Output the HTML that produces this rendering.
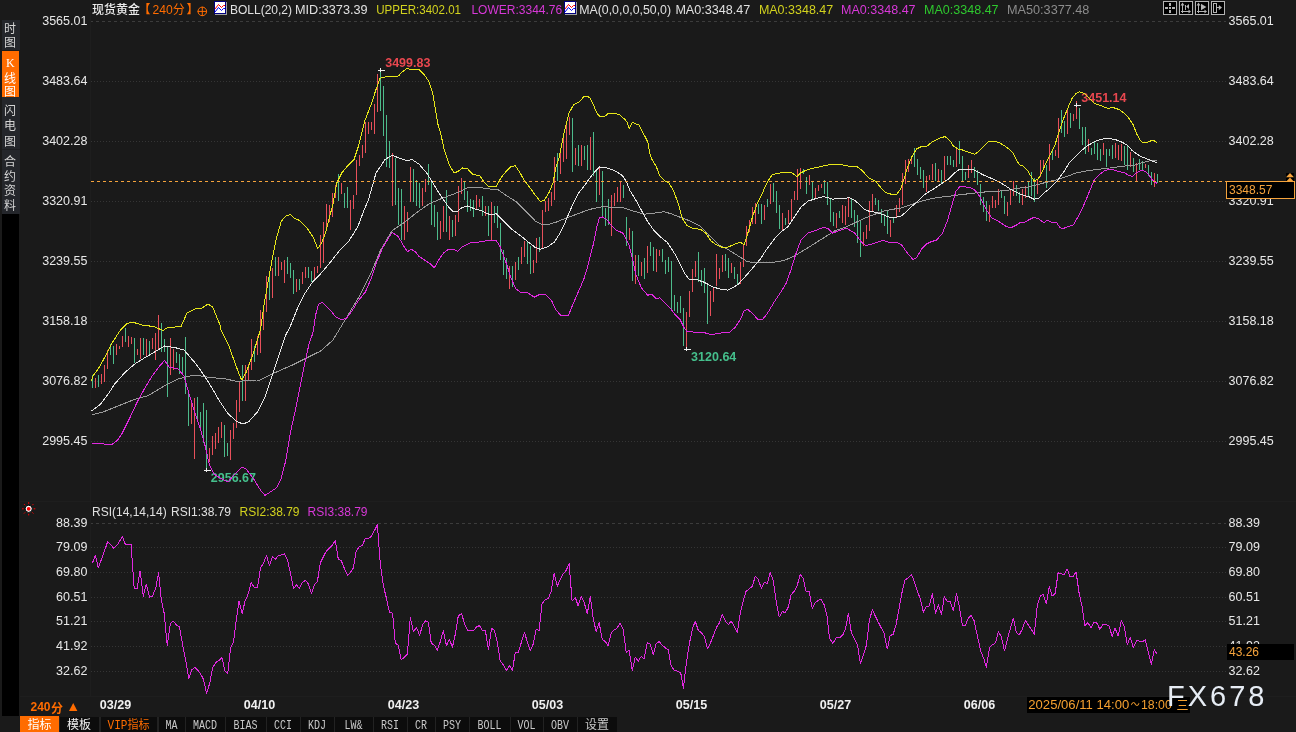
<!DOCTYPE html>
<html><head><meta charset="utf-8"><style>
html,body{margin:0;padding:0}
body{width:1296px;height:732px;background:#1a1a1a;position:relative;overflow:hidden;font-family:"Liberation Sans","Noto Sans CJK SC",sans-serif;}
.side{position:absolute;left:2px;width:18px;background:#24262b;color:#d4d4d4;font-family:"Noto Sans CJK SC",sans-serif;font-size:12px;line-height:14.6px;text-align:left;padding-left:2px;box-sizing:border-box}
</style></head><body>
<div class="side" style="top:20px;height:30px;padding-top:1px;line-height:14px">时<br>图</div>
<div class="side" style="top:51px;height:46px;width:17px;background:#ff6c00;color:#fff;padding-top:4px;line-height:13.6px"><span style="font-family:'Liberation Serif',serif;padding-left:2px">K</span><br>线<br>图</div>
<div class="side" style="top:97px;height:53px;padding-top:5px;line-height:15.3px">闪<br>电<br>图</div>
<div class="side" style="top:150px;height:64px;padding-top:4px">合<br>约<br>资<br>料</div>
<div style="position:absolute;left:2px;top:214px;width:17px;height:502px;background:#000"></div>
<div style="position:absolute;left:2px;top:149px;width:18px;height:1px;background:#1d1e21"></div>
<svg width="1296" height="732" viewBox="0 0 1296 732" style="position:absolute;left:0;top:0" shape-rendering="crispEdges" font-family='"Liberation Sans","Noto Sans CJK SC",sans-serif'>
<path d="M90.5 0V697M20 501.5H1296M20 696.5H1296" stroke="#1e1e1e" stroke-width="1" fill="none"/>
<line x1="91" y1="21.5" x2="1226" y2="21.5" stroke="#3c3c3c" stroke-width="1" stroke-dasharray="3,3" stroke-dashoffset="1"/>
<line x1="91" y1="81.5" x2="1226" y2="81.5" stroke="#353535" stroke-width="1" stroke-dasharray="1,2"/>
<line x1="91" y1="141.5" x2="1226" y2="141.5" stroke="#353535" stroke-width="1" stroke-dasharray="1,2"/>
<line x1="91" y1="201.5" x2="1226" y2="201.5" stroke="#353535" stroke-width="1" stroke-dasharray="1,2"/>
<line x1="91" y1="261.5" x2="1226" y2="261.5" stroke="#353535" stroke-width="1" stroke-dasharray="1,2"/>
<line x1="91" y1="321.5" x2="1226" y2="321.5" stroke="#353535" stroke-width="1" stroke-dasharray="1,2"/>
<line x1="91" y1="381.5" x2="1226" y2="381.5" stroke="#353535" stroke-width="1" stroke-dasharray="1,2"/>
<line x1="91" y1="441.5" x2="1226" y2="441.5" stroke="#353535" stroke-width="1" stroke-dasharray="1,2"/>
<line x1="91" y1="523.5" x2="1226" y2="523.5" stroke="#3c3c3c" stroke-width="1" stroke-dasharray="3,3" stroke-dashoffset="1"/>
<line x1="91" y1="547.5" x2="1226" y2="547.5" stroke="#353535" stroke-width="1" stroke-dasharray="1,2"/>
<line x1="91" y1="572.5" x2="1226" y2="572.5" stroke="#353535" stroke-width="1" stroke-dasharray="1,2"/>
<line x1="91" y1="597.5" x2="1226" y2="597.5" stroke="#353535" stroke-width="1" stroke-dasharray="1,2"/>
<line x1="91" y1="621.5" x2="1226" y2="621.5" stroke="#353535" stroke-width="1" stroke-dasharray="1,2"/>
<line x1="91" y1="646.5" x2="1226" y2="646.5" stroke="#353535" stroke-width="1" stroke-dasharray="1,2"/>
<line x1="91" y1="671.5" x2="1226" y2="671.5" stroke="#353535" stroke-width="1" stroke-dasharray="1,2"/>
<path d="M95.5 378V388M101.5 374V384M104.5 365V382M107.5 350V369M116.5 344V355M119.5 346V349M122.5 336V347M128.5 336V347M131.5 337V344M137.5 349V355M140.5 338V359M146.5 339V356M152.5 338V349M155.5 333V360M158.5 315V349M170.5 338V375M173.5 349V370M191.5 403V424M194.5 398V459M209.5 448V462M212.5 436V455M215.5 433V449M218.5 427V443M221.5 422V438M230.5 430V460M233.5 423V439M236.5 400V428M239.5 381V412M245.5 365V401M248.5 364V381M251.5 339V370M257.5 336V355M260.5 310V353M263.5 310V330M266.5 276V312M272.5 268V298M278.5 257V276M281.5 262V270M284.5 260V283M296.5 279V292M302.5 272V284M305.5 267V278M314.5 267V281M317.5 266V273M320.5 235V268M323.5 222V263M326.5 204V227M329.5 205V222M332.5 193V217M335.5 185V198M341.5 183V194M350.5 200V230M353.5 195V209M356.5 160V195M359.5 155V166M362.5 145V158M365.5 122V153M368.5 122V134M371.5 122V130M374.5 104V134M377.5 74V112M392.5 153V206M404.5 206V240M407.5 212V232M410.5 167V202M422.5 188V206M425.5 179V192M440.5 221V239M443.5 206V232M449.5 216V240M455.5 215V236M458.5 186V222M461.5 178V194M476.5 195V210M479.5 199V207M485.5 206V216M491.5 202V240M509.5 266V289M515.5 262V280M521.5 247V264M524.5 241V257M533.5 260V273M536.5 238V263M542.5 210V248M545.5 201V212M548.5 198V211M551.5 192V206M554.5 157V200M560.5 150V174M563.5 137V162M566.5 123V159M569.5 117V135M575.5 148V165M581.5 145V166M590.5 137V170M599.5 166V195M611.5 195V236M614.5 193V206M617.5 187V202M620.5 181V202M629.5 228V240M635.5 255V284M641.5 262V276M647.5 246V273M656.5 249V272M659.5 250V256M686.5 312V349M689.5 291V317M692.5 269V292M695.5 261V277M710.5 291V316M713.5 288V302M716.5 254V286M719.5 268V279M722.5 255V272M731.5 263V273M740.5 262V284M743.5 245V267M746.5 226V246M749.5 220V232M752.5 207V224M755.5 203V224M764.5 205V220M770.5 184V204M782.5 213V231M788.5 210V224M791.5 199V221M794.5 191V200M797.5 169V200M800.5 168V189M809.5 175V185M815.5 188V198M818.5 185V191M821.5 184V188M836.5 213V228M842.5 205V223M845.5 206V225M848.5 198V217M863.5 232V246M866.5 225V239M869.5 201V231M872.5 194V211M890.5 220V237M896.5 205V218M899.5 198V212M902.5 173V205M905.5 160V184M908.5 159V172M911.5 158V164M926.5 176V192M929.5 175V180M932.5 164V180M938.5 169V181M944.5 156V180M956.5 149V167M968.5 165V178M971.5 160V173M989.5 205V222M992.5 196V208M995.5 200V208M998.5 189V205M1007.5 202V216M1010.5 190V205M1013.5 181V196M1022.5 189V205M1025.5 186V198M1037.5 180V194M1040.5 160V177M1043.5 160V170M1049.5 144V171M1055.5 150V156M1058.5 118V158M1067.5 108V134M1073.5 114V121M1076.5 101V119M1088.5 139V152M1103.5 143V155M1115.5 143V158M1118.5 145V160M1121.5 144V161M1130.5 152V167M1136.5 163V181M1145.5 164V168M1154.5 173V187" stroke="#e8505b" stroke-width="1" fill="none"/>
<path d="M92.5 375V388M98.5 375V387M110.5 344V355M113.5 346V364M125.5 328V342M134.5 338V363M143.5 338V355M149.5 341V355M161.5 323V352M164.5 339V352M167.5 346V397M176.5 352V363M179.5 354V374M182.5 357V375M185.5 337V394M188.5 394V426M197.5 397V421M200.5 412V428M203.5 403V443M206.5 410V470M224.5 425V457M227.5 443V456M242.5 365V401M254.5 346V362M269.5 271V300M275.5 257V276M287.5 257V274M290.5 263V278M293.5 270V294M299.5 279V290M308.5 267V278M311.5 271V282M338.5 174V201M344.5 193V208M347.5 187V208M380.5 70V111M383.5 86V136M386.5 115V167M389.5 141V168M395.5 158V205M398.5 188V225M401.5 189V240M413.5 169V202M416.5 180V206M419.5 183V208M428.5 164V185M431.5 180V225M434.5 205V227M437.5 212V240M446.5 190V232M452.5 220V237M464.5 182V200M467.5 191V212M470.5 199V211M473.5 200V217M482.5 196V216M488.5 206V236M494.5 206V223M497.5 206V228M500.5 223V260M503.5 250V275M506.5 258V279M512.5 266V287M518.5 257V270M527.5 241V264M530.5 246V274M539.5 237V252M557.5 153V181M572.5 118V172M578.5 145V166M584.5 146V160M587.5 145V170M593.5 132V176M596.5 170V202M602.5 171V218M605.5 208V226M608.5 199V225M623.5 185V198M626.5 217V246M632.5 231V281M638.5 255V276M644.5 258V279M650.5 242V256M653.5 247V271M662.5 249V262M665.5 260V274M668.5 257V272M671.5 261V309M674.5 295V311M677.5 302V313M680.5 296V313M683.5 308V346M698.5 252V282M701.5 270V286M704.5 268V293M707.5 284V324M725.5 254V271M728.5 258V278M734.5 267V279M737.5 274V285M758.5 204V214M761.5 204V224M767.5 199V207M773.5 183V202M776.5 191V213M779.5 205V229M785.5 218V225M803.5 169V174M806.5 177V194M812.5 182V199M824.5 180V194M827.5 182V205M830.5 198V222M833.5 212V226M839.5 211V218M851.5 199V218M854.5 210V227M857.5 215V243M860.5 221V257M875.5 198V205M878.5 200V211M881.5 209V223M884.5 214V226M887.5 210V234M893.5 218V223M914.5 148V167M917.5 159V175M920.5 167V179M923.5 170V188M935.5 163V181M941.5 170V184M947.5 156V165M950.5 156V165M953.5 160V167M959.5 141V164M962.5 156V181M965.5 172V180M974.5 167V178M977.5 170V185M980.5 184V205M983.5 197V212M986.5 201V221M1001.5 190V198M1004.5 196V214M1016.5 185V196M1019.5 192V203M1028.5 182V196M1031.5 172V196M1034.5 178V202M1046.5 165V188M1052.5 149V160M1061.5 110V133M1064.5 121V137M1070.5 113V128M1079.5 108V129M1082.5 127V145M1085.5 127V154M1091.5 148V155M1094.5 142V154M1097.5 143V160M1100.5 149V161M1106.5 149V167M1109.5 149V156M1112.5 145V159M1124.5 146V165M1127.5 146V170M1133.5 158V172M1139.5 159V170M1142.5 161V171M1148.5 165V176M1151.5 172V185M1157.5 174V183" stroke="#4dbb8b" stroke-width="1" fill="none"/>
<g font-weight="bold" font-size="12.6" shape-rendering="auto">
<text x="385.2" y="67.3" fill="#e8474f" font-size="12.6" font-weight="bold" textLength="45.2" lengthAdjust="spacingAndGlyphs">3499.83</text>
<text x="1081.3" y="102" fill="#e8474f" font-size="12.6" font-weight="bold" textLength="45.2" lengthAdjust="spacingAndGlyphs">3451.14</text>
<text x="210.8" y="482.2" fill="#45bf8c" font-size="12.6" font-weight="bold" textLength="45.2" lengthAdjust="spacingAndGlyphs">2956.67</text>
<text x="691.1" y="361.2" fill="#45bf8c" font-size="12.6" font-weight="bold" textLength="45.2" lengthAdjust="spacingAndGlyphs">3120.64</text>
</g>
<g fill="none" stroke-width="1" shape-rendering="crispEdges" stroke-linejoin="round">
<polyline points="91.6,415.0 103.0,412.0 118.0,406.0 133.0,400.0 148.0,395.7 163.0,386.7 178.0,379.0 190.0,376.0 199.0,375.6 210.0,377.5 224.8,378.7 234.8,381.0 242.0,381.0 256.7,380.0 260.4,380.0 274.3,373.0 292.9,364.8 309.0,356.7 320.7,351.0 333.0,340.0 348.2,314.7 359.7,295.6 371.2,272.7 380.8,249.7 392.2,230.6 404.6,222.2 416.9,212.4 429.2,203.8 438.0,200.0 447.8,196.2 457.7,192.5 467.5,187.6 477.3,187.0 487.2,188.8 498.0,189.6 505.8,195.2 515.7,201.3 525.5,211.1 535.3,221.0 542.7,224.7 550.1,224.0 556.0,222.2 563.8,219.0 573.7,215.3 583.5,211.6 593.3,208.4 603.2,206.7 612.0,207.3 621.8,207.3 631.7,210.5 644.0,214.2 653.8,213.2 663.6,211.7 670.0,213.4 679.8,217.1 689.7,220.8 699.5,225.7 709.3,235.6 719.2,245.4 728.0,249.6 737.8,255.7 747.7,261.9 760.0,262.6 777.2,261.9 786.0,259.7 795.8,255.2 805.7,249.1 815.5,243.0 825.3,236.8 835.2,230.6 846.0,227.0 853.8,223.4 863.7,218.5 873.5,214.8 883.3,211.1 893.2,209.2 902.0,207.9 914.3,203.4 926.6,199.7 938.9,197.3 951.2,196.0 960.0,194.8 969.8,193.6 979.7,192.4 989.5,191.6 999.3,191.1 1009.2,190.0 1018.0,188.2 1027.8,187.0 1037.7,184.5 1047.5,182.0 1057.3,179.6 1067.2,176.4 1076.0,173.0 1085.8,171.0 1095.7,169.7 1105.5,168.5 1115.3,167.3 1125.2,166.0 1133.5,165.6 1139.0,163.5 1144.4,162.2 1149.9,160.8 1157.0,160.1" stroke="#9a9a9a"/>
<polyline points="91.6,443.1 102.8,443.8 111.4,445.0 117.5,440.2 122.4,432.8 129.8,418.0 137.2,402.0 144.6,388.5 151.9,376.2 159.3,366.4 164.6,360.5 169.0,367.0 178.0,368.7 184.0,376.0 190.0,397.0 195.0,413.0 200.0,427.5 204.6,443.7 209.3,464.6 214.0,474.0 220.9,478.6 227.9,482.0 234.8,474.0 241.8,467.0 246.4,469.3 253.4,478.6 260.4,490.0 265.0,495.3 269.6,492.5 276.6,487.8 281.2,478.6 285.9,460.0 290.5,432.0 295.2,411.0 299.8,388.0 304.5,364.8 309.0,344.0 312.9,333.0 315.7,314.7 318.6,304.2 322.4,302.3 327.2,307.0 331.0,311.0 335.8,317.0 340.6,319.5 346.3,318.6 352.0,311.0 357.8,301.4 365.5,291.8 371.2,278.4 377.0,261.2 382.7,247.8 388.4,238.2 392.2,232.5 398.0,236.3 403.7,245.9 407.5,251.6 411.4,249.3 415.2,251.6 419.0,256.4 424.7,260.2 430.5,264.0 434.3,267.9 439.1,259.3 443.9,252.6 447.8,249.8 452.8,249.0 457.7,251.5 462.6,246.6 470.0,243.0 477.3,242.4 484.7,241.0 492.0,240.5 496.0,240.6 499.7,245.6 503.4,255.4 507.0,265.2 510.8,277.5 515.7,288.6 520.6,292.3 528.0,292.8 534.1,297.2 539.0,294.7 546.2,295.0 551.5,300.4 556.0,310.1 561.3,315.8 568.4,315.5 572.0,306.6 577.3,294.1 583.5,280.0 587.0,269.3 589.7,258.6 593.3,244.4 596.8,226.6 599.5,217.8 602.2,216.9 606.6,219.5 611.0,224.9 616.4,230.2 622.6,232.9 625.3,237.3 628.8,244.4 632.4,258.6 635.9,274.6 641.5,288.0 647.7,295.3 651.3,294.0 656.3,299.0 660.0,297.8 664.9,302.7 670.0,308.0 674.9,314.3 679.8,319.2 684.8,329.0 687.2,331.5 694.6,332.2 704.4,332.7 711.8,334.7 719.2,333.2 730.0,332.2 735.4,327.0 740.3,319.7 744.0,311.0 747.7,309.3 752.6,313.5 757.5,319.2 762.4,319.7 767.3,313.5 774.7,301.2 782.0,290.2 786.0,283.5 790.9,270.0 795.8,254.0 800.8,240.5 808.1,233.1 815.5,230.6 822.9,227.5 827.8,228.2 832.7,233.1 838.9,230.6 846.0,228.2 848.9,229.6 855.0,233.3 861.2,241.9 866.1,245.6 871.0,244.3 878.4,241.9 883.3,240.2 889.5,242.6 896.9,242.6 902.0,245.2 907.0,252.6 913.0,259.5 916.8,257.5 921.7,248.9 926.6,244.0 931.5,241.5 936.4,240.3 942.6,233.0 947.5,220.6 952.4,203.4 956.0,191.1 959.8,186.7 964.9,186.7 972.3,188.2 977.2,192.4 982.1,201.0 987.0,210.8 992.0,218.2 998.1,221.1 1003.0,224.3 1006.7,226.8 1011.6,227.5 1016.6,225.0 1020.0,222.6 1024.1,222.6 1029.0,219.7 1034.0,217.2 1038.9,219.0 1043.8,222.6 1047.5,220.2 1051.2,222.0 1056.1,222.0 1059.8,227.5 1062.3,228.8 1067.2,227.0 1073.3,225.0 1076.0,220.2 1080.9,211.5 1085.8,200.5 1090.8,188.2 1094.4,179.6 1099.4,174.7 1104.3,171.0 1108.0,169.7 1112.9,169.7 1119.0,171.5 1125.2,173.0 1128.0,175.1 1132.8,176.5 1136.2,173.1 1138.9,171.3 1142.3,170.4 1145.8,171.7 1148.5,174.5 1151.9,179.2 1154.6,182.0 1157.0,183.3" stroke="#e028e0"/>
<polyline points="91.6,411.0 100.3,404.5 107.7,394.7 115.0,383.6 124.9,372.5 134.7,364.0 144.6,357.8 157.0,350.6 164.6,346.0 175.0,347.6 184.0,350.0 196.0,364.0 200.0,369.5 209.3,383.4 218.6,399.6 227.9,413.6 237.1,421.7 243.0,424.0 248.7,421.7 258.0,411.2 265.0,397.3 272.0,376.4 278.9,355.5 285.9,334.6 289.7,327.7 297.4,308.6 305.0,293.3 312.7,281.8 320.3,274.1 330.0,262.6 339.4,250.8 348.2,242.0 357.8,226.8 363.5,211.5 368.3,200.0 371.2,190.3 376.0,173.0 381.0,165.7 385.0,159.5 392.3,155.3 399.7,158.3 407.0,160.7 412.0,159.5 419.3,164.4 426.7,173.0 432.9,182.9 437.8,191.3 442.9,198.7 447.8,206.0 452.8,211.5 457.7,211.0 462.6,207.3 467.5,206.0 474.9,209.0 482.3,211.0 488.4,214.0 493.3,214.7 496.0,213.6 503.4,221.0 510.8,228.4 520.6,235.7 528.0,241.9 535.3,247.5 540.3,249.3 547.6,246.8 554.0,242.4 558.9,235.0 565.0,222.7 571.2,208.0 578.6,193.2 586.0,183.4 593.3,173.5 599.5,166.9 606.8,167.8 612.0,169.6 618.0,172.6 622.5,175.6 626.3,181.6 630.0,190.7 635.4,199.4 641.5,210.5 647.7,221.6 653.8,230.2 661.2,237.5 667.3,242.5 670.0,246.6 674.9,254.0 679.8,263.8 684.8,273.7 689.7,279.8 697.0,279.8 704.4,282.3 711.8,286.5 719.2,288.9 728.0,290.2 737.8,284.7 745.2,276.6 752.6,268.0 760.0,259.4 767.3,248.4 774.7,238.5 782.0,231.1 788.0,226.7 793.4,218.4 800.8,207.3 808.1,201.1 815.5,198.7 822.9,196.7 827.8,197.5 832.7,199.2 838.9,198.2 846.0,198.2 848.9,197.6 853.8,199.6 858.8,203.8 863.7,208.7 868.6,211.1 876.0,212.4 883.3,214.8 889.5,217.3 895.6,217.3 902.0,215.7 909.4,208.4 916.8,202.2 924.1,194.8 934.0,188.7 941.3,183.8 948.7,178.8 954.9,172.7 959.8,169.0 967.4,169.0 974.8,170.2 982.1,174.4 989.5,177.6 996.9,180.8 1004.3,185.0 1011.6,189.9 1018.0,193.1 1022.9,195.0 1029.0,196.8 1034.0,199.3 1038.9,198.0 1043.8,193.1 1050.0,188.2 1057.3,180.8 1063.5,172.2 1069.6,162.4 1076.0,156.2 1082.1,150.0 1088.3,145.2 1095.7,141.0 1103.0,139.0 1109.2,138.5 1115.3,139.5 1121.5,142.0 1127.6,145.2 1132.1,150.5 1137.6,154.6 1143.0,157.4 1148.5,159.4 1153.3,161.5 1157.0,162.8" stroke="#e6e6e6"/>
<polyline points="91.6,380.7 93.0,376.0 99.0,367.6 105.2,356.5 111.4,344.0 120.0,330.7 127.3,323.4 132.3,322.0 142.0,325.0 154.0,326.6 163.0,330.5 167.6,327.5 181.0,326.6 187.0,313.0 196.0,308.5 202.0,308.0 208.0,304.0 212.7,307.0 220.0,325.0 221.0,330.0 229.0,346.2 234.8,362.5 239.5,375.3 241.8,380.0 246.4,371.8 253.4,353.2 260.4,330.0 264.0,305.0 271.4,263.4 276.3,238.8 281.2,221.6 283.5,218.2 286.0,216.0 290.6,214.3 294.7,218.7 299.7,220.4 307.0,227.8 310.0,232.5 313.8,238.2 317.6,248.8 321.5,243.0 325.3,233.5 329.1,219.0 333.0,203.8 336.8,183.0 341.7,173.0 347.8,165.7 354.0,159.6 358.9,144.8 365.0,120.2 371.2,104.3 376.0,89.5 380.0,78.4 385.0,77.0 392.3,76.6 398.4,76.0 402.0,72.2 407.0,68.5 412.0,69.8 419.3,69.8 424.3,74.7 429.2,82.0 432.9,94.3 435.3,109.0 437.8,123.8 440.5,132.3 444.1,149.5 449.0,164.3 454.0,172.9 457.7,171.6 462.6,168.0 467.5,168.7 472.4,174.0 479.8,176.0 484.7,182.7 488.4,186.4 493.3,186.0 496.0,186.6 500.9,178.0 505.8,171.8 510.8,166.9 515.2,165.7 519.4,171.8 524.3,180.4 529.2,186.6 535.3,195.2 540.3,201.3 544.0,200.8 548.9,192.7 553.0,182.9 556.0,166.9 558.9,158.8 563.8,134.2 568.8,113.3 573.7,104.7 578.6,102.2 584.7,96.0 589.7,97.3 593.3,104.7 597.0,113.3 600.2,117.0 604.5,116.7 608.3,113.3 615.0,113.3 619.5,114.8 624.8,119.3 627.0,122.3 629.3,128.3 632.3,122.3 635.3,123.8 638.8,124.6 642.0,131.3 645.0,136.6 648.0,142.6 649.6,153.1 651.8,159.1 656.3,166.6 659.3,174.9 664.6,180.9 669.1,183.2 673.6,190.7 678.6,204.8 682.3,218.4 687.2,225.7 692.1,228.2 700.7,229.4 705.7,233.1 710.6,240.5 715.5,244.2 721.6,247.1 728.0,247.1 735.4,244.0 740.3,242.2 744.0,244.7 747.7,233.6 752.6,216.4 757.5,202.9 762.4,193.0 767.3,182.0 772.3,174.6 777.2,173.4 782.0,172.6 786.0,172.0 792.1,172.9 797.0,176.6 800.8,172.9 805.7,170.4 810.6,168.7 818.0,167.2 825.3,165.5 832.7,164.3 838.9,164.3 846.0,165.5 850.1,166.4 857.5,166.9 862.4,170.6 867.4,176.7 871.0,179.2 876.0,181.6 880.9,187.8 885.8,192.7 892.0,194.4 896.9,194.0 900.6,189.0 904.0,179.2 907.0,169.0 911.8,156.7 916.8,148.8 921.7,146.4 926.6,146.4 931.5,142.5 938.9,138.3 945.0,136.6 950.0,140.7 953.6,146.4 958.6,149.3 962.0,149.8 966.1,151.3 971.0,153.0 974.8,154.3 978.4,151.8 983.4,146.9 988.3,141.5 994.4,141.5 999.3,142.5 1004.3,145.7 1009.2,149.3 1012.9,153.0 1016.6,160.4 1020.0,165.3 1022.9,166.0 1027.8,171.0 1031.5,177.1 1034.0,180.8 1037.7,179.6 1041.4,173.4 1046.3,162.4 1051.2,152.5 1054.9,145.2 1058.6,132.9 1062.3,121.8 1067.2,109.5 1072.0,98.4 1076.0,93.5 1079.7,91.8 1084.6,93.5 1089.5,98.4 1094.4,103.4 1099.4,105.0 1104.3,107.0 1108.0,108.3 1112.9,107.5 1119.0,109.5 1124.0,113.2 1128.0,117.0 1133.5,125.3 1136.2,132.8 1139.0,138.3 1141.7,142.0 1145.8,142.3 1148.5,142.0 1151.9,140.3 1154.6,141.0 1157.0,142.6" stroke="#e6e619"/>
<polyline points="92.4,563.0 95.4,555.6 98.3,567.9 102.8,555.6 107.7,541.6 113.8,548.2 117.5,544.5 122.4,536.6 125.4,544.5 131.0,544.0 134.2,588.3 137.2,588.3 140.1,571.0 143.3,596.1 146.3,584.3 149.5,597.4 152.4,596.1 155.6,588.8 158.6,572.8 161.3,599.8 164.2,613.4 167.2,645.3 170.4,623.2 173.3,621.2 176.5,625.2 179.5,626.9 182.7,645.3 185.6,660.0 188.8,678.5 191.8,669.9 195.0,667.4 197.9,670.4 201.1,674.8 203.6,679.7 206.5,693.3 209.7,683.4 212.7,667.4 215.9,662.5 218.8,660.6 222.0,657.6 224.9,671.1 227.7,673.6 230.6,647.8 233.6,641.6 236.0,622.0 239.0,601.5 242.1,613.4 245.1,601.0 248.3,593.7 251.2,582.6 254.4,587.5 257.4,587.5 260.6,567.9 263.5,563.0 266.5,555.6 269.4,565.4 272.4,556.8 275.3,559.3 278.5,555.6 281.5,554.8 284.4,553.8 287.6,560.5 290.6,574.0 293.5,588.8 296.5,585.0 299.4,588.3 302.4,582.6 305.3,580.2 308.3,583.8 311.5,593.2 314.4,585.0 317.4,581.4 320.3,563.0 323.3,556.8 326.2,551.4 329.4,548.2 332.4,545.0 335.3,540.8 338.3,559.3 341.2,560.5 344.2,567.9 347.4,575.2 350.3,572.8 353.3,567.9 356.2,550.7 359.2,547.0 362.4,545.2 365.3,538.6 368.3,538.4 371.2,536.6 374.2,531.0 377.4,524.8 380.3,564.2 383.5,586.3 386.5,598.6 389.4,612.1 392.6,613.4 395.3,642.9 398.3,645.3 401.2,660.0 404.4,657.1 407.4,653.9 410.3,617.8 413.5,631.8 416.5,627.6 419.7,635.5 422.6,624.4 425.8,620.7 428.3,622.0 431.2,642.9 434.4,645.3 437.4,650.2 440.3,641.6 443.3,630.6 446.5,645.8 449.4,639.2 452.4,647.3 455.3,634.3 458.3,615.8 461.5,613.4 464.4,623.2 467.4,630.1 470.3,630.1 473.3,631.0 476.5,626.9 479.4,625.6 482.4,630.6 485.3,630.1 488.5,649.7 491.5,628.1 494.4,630.6 497.4,642.9 500.3,661.3 503.5,665.0 506.4,670.4 509.4,665.5 512.4,670.4 515.3,652.7 518.3,652.7 521.2,642.9 524.4,632.5 527.3,641.6 530.3,650.7 533.2,644.0 536.2,629.3 539.1,630.6 542.1,603.5 545.3,599.8 548.2,598.6 551.2,591.2 554.1,573.5 557.3,586.3 560.3,578.9 563.2,574.0 566.2,570.3 569.1,563.7 572.1,601.0 575.3,597.4 578.2,606.0 581.2,596.1 584.1,602.3 587.3,613.8 590.3,596.1 593.2,618.3 596.2,631.8 599.1,622.7 602.3,639.2 605.3,641.6 608.2,645.8 611.2,633.0 614.1,630.1 617.1,628.1 620.0,623.2 623.2,629.3 626.2,652.7 629.1,650.2 632.3,670.4 635.3,657.1 638.2,661.3 641.2,656.4 644.1,658.8 647.3,642.4 650.3,644.1 653.2,654.7 656.2,643.4 659.1,641.6 662.3,645.3 665.3,647.8 668.2,649.7 671.2,666.2 674.1,669.9 677.1,671.1 680.0,672.4 681.2,674.8 683.4,688.3 686.4,662.5 689.3,644.1 692.3,629.3 695.2,621.2 698.4,630.6 701.4,632.5 704.3,636.7 707.5,649.0 710.5,642.9 713.4,635.5 716.4,627.6 719.3,623.2 722.3,614.6 725.5,621.2 728.4,624.4 731.4,621.2 734.3,626.9 737.3,632.5 740.2,613.4 743.2,601.0 746.1,591.2 749.3,588.8 752.3,586.3 755.2,576.5 758.2,579.4 761.4,588.3 764.3,582.6 767.3,583.4 770.2,572.8 773.2,580.2 776.1,601.0 779.3,617.0 782.3,611.4 785.2,612.9 788.2,607.2 791.1,594.9 794.3,591.2 797.3,585.1 800.2,574.5 803.2,578.4 806.1,591.7 809.3,591.7 812.3,608.9 815.2,602.3 818.2,600.6 821.1,599.1 824.1,604.7 827.0,615.8 829.5,638.0 832.9,643.4 836.6,637.4 840.3,637.4 843.2,634.3 845.7,628.1 848.4,613.4 851.4,633.0 854.6,639.2 857.5,645.3 860.5,663.8 863.4,655.2 866.4,645.3 869.3,620.7 872.3,609.7 875.2,615.8 878.2,622.0 881.1,627.6 884.1,633.0 887.3,649.0 890.2,635.5 893.2,634.3 896.1,624.4 899.1,608.4 902.0,592.5 905.0,580.2 908.2,577.7 911.6,574.5 914.6,582.6 917.5,591.2 920.5,599.8 923.4,612.1 926.4,606.5 929.3,606.0 932.3,593.7 935.5,613.4 938.4,604.7 941.4,614.6 944.3,596.6 947.3,601.5 950.2,601.5 953.4,610.9 956.4,593.7 959.3,606.0 962.3,625.2 965.2,626.1 968.2,618.3 971.1,615.3 974.1,620.7 977.5,636.7 980.9,651.5 983.9,658.8 986.3,667.4 989.5,647.8 992.5,644.8 995.4,642.9 998.4,631.8 1001.3,636.7 1004.5,651.0 1007.5,639.2 1010.4,628.1 1013.4,618.3 1016.3,632.5 1019.3,635.0 1022.2,629.3 1025.4,620.7 1028.4,625.2 1031.3,629.3 1034.3,634.3 1037.2,606.0 1040.2,596.1 1043.1,594.2 1046.3,604.0 1049.3,586.8 1052.2,596.1 1055.2,593.2 1058.1,572.8 1061.1,573.5 1064.0,575.2 1067.2,569.1 1070.2,577.0 1073.1,576.5 1076.1,572.0 1079.0,592.5 1082.0,606.0 1084.9,625.6 1087.9,622.7 1091.1,628.1 1094.0,622.0 1097.0,623.2 1099.9,629.3 1102.9,624.4 1105.8,624.4 1109.0,626.1 1112.2,636.4 1115.0,628.0 1118.2,636.0 1121.3,620.4 1124.2,626.4 1127.3,644.3 1130.2,637.7 1133.2,647.2 1136.8,640.4 1139.5,641.3 1142.2,642.1 1145.2,639.6 1148.3,652.5 1151.3,664.5 1154.3,649.7 1157.0,654.1" stroke="#e028e0"/>
</g>
<line x1="91" y1="181.5" x2="1226" y2="181.5" stroke="#f5a33c" stroke-width="1" stroke-dasharray="3,3"/>
<path d="M378 70.5H385M380.5 68V72" stroke="#f0f0f0" stroke-width="1" fill="none"/>
<path d="M1074 105.5H1081M1076.5 103V107" stroke="#f0f0f0" stroke-width="1" fill="none"/>
<path d="M204 470.5H211M206.5 468V472" stroke="#f0f0f0" stroke-width="1" fill="none"/>
<path d="M684 349.5H691M686.5 347V351" stroke="#f0f0f0" stroke-width="1" fill="none"/>
<g shape-rendering="auto" font-size="12.5" fill="#e8e8e8">
<text x="87.4" y="25" text-anchor="end">3565.01</text>
<text x="1228.6" y="25">3565.01</text>
<text x="87.4" y="85" text-anchor="end">3483.64</text>
<text x="1228.6" y="85">3483.64</text>
<text x="87.4" y="145" text-anchor="end">3402.28</text>
<text x="1228.6" y="145">3402.28</text>
<text x="87.4" y="205" text-anchor="end">3320.91</text>
<text x="1228.6" y="205">3320.91</text>
<text x="87.4" y="265" text-anchor="end">3239.55</text>
<text x="1228.6" y="265">3239.55</text>
<text x="87.4" y="325" text-anchor="end">3158.18</text>
<text x="1228.6" y="325">3158.18</text>
<text x="87.4" y="385" text-anchor="end">3076.82</text>
<text x="1228.6" y="385">3076.82</text>
<text x="87.4" y="445" text-anchor="end">2995.45</text>
<text x="1228.6" y="445">2995.45</text>
<text x="87.4" y="527" text-anchor="end">88.39</text>
<text x="1228.6" y="527">88.39</text>
<text x="87.4" y="551" text-anchor="end">79.09</text>
<text x="1228.6" y="551">79.09</text>
<text x="87.4" y="576" text-anchor="end">69.80</text>
<text x="1228.6" y="576">69.80</text>
<text x="87.4" y="601" text-anchor="end">60.51</text>
<text x="1228.6" y="601">60.51</text>
<text x="87.4" y="625" text-anchor="end">51.21</text>
<text x="1228.6" y="625">51.21</text>
<text x="87.4" y="650" text-anchor="end">41.92</text>
<text x="1228.6" y="650">41.92</text>
<text x="87.4" y="675" text-anchor="end">32.62</text>
<text x="1228.6" y="675">32.62</text>
</g>
<rect x="1226.5" y="181.5" width="68" height="17" fill="#000" stroke="#f5a33c" stroke-width="1"/>
<rect x="1286" y="173" width="8" height="8" fill="#000"/>
<path d="M1286 177.2L1290 173L1294 177.2ZM1286.5 181.2L1290 177.5L1293.5 181.2Z" fill="#f5a33c" shape-rendering="auto"/>
<text x="1229" y="194" fill="#f5a33c" font-size="12" shape-rendering="auto">3348.57</text>
<rect x="1227" y="644" width="67" height="16" fill="#000"/>
<text x="1229" y="655.6" fill="#f5a33c" font-size="12" shape-rendering="auto">43.26</text>
<g shape-rendering="auto" font-size="12">
<text x="92" y="14" fill="#ececec" font-size="12" font-weight="500">现货黄金</text>
<text x="138.5" y="14" fill="#ff6c00" font-size="12" font-weight="bold">【</text>
<text x="152.5" y="14" fill="#ff6c00" font-size="12" textLength="32.4" lengthAdjust="spacingAndGlyphs">240分</text>
<text x="186.5" y="14" fill="#ff6c00" font-size="12" font-weight="bold">】</text>
<text x="230" y="14" fill="#e0e0e0" font-size="12">BOLL(20,2)</text>
<text x="295.0" y="14" fill="#e0e0e0" font-size="12" textLength="72.6" lengthAdjust="spacingAndGlyphs">MID:3373.39</text>
<text x="376.2" y="14" fill="#d2d21e" font-size="12" textLength="84.8" lengthAdjust="spacingAndGlyphs">UPPER:3402.01</text>
<text x="471.4" y="14" fill="#d838d8" font-size="12" textLength="90.8" lengthAdjust="spacingAndGlyphs">LOWER:3344.76</text>
<text x="579.2" y="14" fill="#e0e0e0" font-size="12" textLength="91.9" lengthAdjust="spacingAndGlyphs">MA(0,0,0,0,50,0)</text>
<text x="675.4" y="14" fill="#e0e0e0" font-size="12" textLength="74.8" lengthAdjust="spacingAndGlyphs">MA0:3348.47</text>
<text x="758.9" y="14" fill="#d2d21e" font-size="12" textLength="74.3" lengthAdjust="spacingAndGlyphs">MA0:3348.47</text>
<text x="841.0" y="14" fill="#d838d8" font-size="12" textLength="74.6" lengthAdjust="spacingAndGlyphs">MA0:3348.47</text>
<text x="924.0" y="14" fill="#2ec82e" font-size="12" textLength="74.6" lengthAdjust="spacingAndGlyphs">MA0:3348.47</text>
<text x="1007.0" y="14" fill="#8c8c8c" font-size="12" textLength="82.4" lengthAdjust="spacingAndGlyphs">MA50:3377.48</text>
<text x="92" y="515.5" fill="#e0e0e0" font-size="12">RSI(14,14,14)</text>
<text x="171" y="515.5" fill="#e0e0e0" font-size="12">RSI1:38.79</text>
<text x="239.5" y="515.5" fill="#d2d21e" font-size="12">RSI2:38.79</text>
<text x="307.5" y="515.5" fill="#d838d8" font-size="12">RSI3:38.79</text>
</g>
<g shape-rendering="auto" fill="none" stroke="#ff6c00" stroke-width="1"><circle cx="202.3" cy="11.4" r="4.3"/><path d="M197.5 11.4H207M202.3 6.8V16"/></g>
<g transform="translate(214,1)"><rect x="1" y="1" width="12" height="13" fill="#a0a0a0"/><rect x="0" y="0" width="12" height="13" fill="#000080"/><rect x="1" y="1" width="10" height="11" fill="#fff"/><polyline points="1,8 4.5,3.5 7.5,6.5 9.5,4.5 11,4.5" fill="none" stroke="#f00" stroke-width="1" shape-rendering="auto"/><polyline points="1,11 4.5,6.5 7.5,9.5 9.5,7.5 11,7.5" fill="none" stroke="#00f" stroke-width="1" shape-rendering="auto"/></g>
<g transform="translate(564,1)"><rect x="1" y="1" width="12" height="13" fill="#a0a0a0"/><rect x="0" y="0" width="12" height="13" fill="#000080"/><rect x="1" y="1" width="10" height="11" fill="#fff"/><polyline points="1,8 4.5,3.5 7.5,6.5 9.5,4.5 11,4.5" fill="none" stroke="#f00" stroke-width="1" shape-rendering="auto"/><polyline points="1,11 4.5,6.5 7.5,9.5 9.5,7.5 11,7.5" fill="none" stroke="#00f" stroke-width="1" shape-rendering="auto"/></g>
<g><rect x="1163" y="1" width="14" height="14" fill="#000"/><rect x="1163.5" y="1.5" width="13" height="13" fill="none" stroke="#b4b4b4"/><rect x="1179" y="1" width="14" height="14" fill="#000"/><rect x="1179.5" y="1.5" width="13" height="13" fill="none" stroke="#b4b4b4"/><rect x="1195" y="1" width="14" height="14" fill="#000"/><rect x="1195.5" y="1.5" width="13" height="13" fill="none" stroke="#b4b4b4"/><rect x="1211" y="1" width="14" height="14" fill="#000"/><rect x="1211.5" y="1.5" width="13" height="13" fill="none" stroke="#b4b4b4"/><path d="M1169 3h2v3h-2zM1165 7h3v2h-3zM1169 7h2v2h-2zM1172 7h3v2h-3zM1169 10h2v3h-2z" fill="#b4b4b4"/><path d="M1182.5 4V12.5M1181 11.5H1189.5M1185.5 4.5V9.5" stroke="#b4b4b4" fill="none"/><path d="M1180.5 5.5L1182.5 2.5L1184.5 5.5ZM1188.5 9.5L1191 11.5L1188.5 13.5ZM1189 4L1186.2 6.5L1189 9Z" fill="#b4b4b4" shape-rendering="auto"/><path d="M1198.5 4V12.5M1197 11.5H1205.5" stroke="#b4b4b4" fill="none"/><path d="M1196.5 5.5L1198.5 2.5L1200.5 5.5ZM1204.5 9.5L1207 11.5L1204.5 13.5ZM1201 3.8L1206.4 7L1201 10.2Z" fill="#b4b4b4" shape-rendering="auto"/><path d="M1213.5 3.5H1216.5V12.5H1213.5Z M1216 7.5H1220" stroke="#b4b4b4" fill="none"/><path d="M1218.8 5L1222 7.6L1218.8 10.2Z" fill="#b4b4b4" shape-rendering="auto"/></g>
<g shape-rendering="auto"><circle cx="28.7" cy="508.8" r="3.6" fill="#fff" stroke="#000" stroke-width="1"/><circle cx="28.7" cy="508.8" r="1.9" fill="#f00"/><path d="M28.7 502.2V503.8M28.7 513.8V515.4M22.1 508.8H23.7M33.7 508.8H35.3M24 504.1L25.1 505.2M32.3 512.4L33.4 513.5M33.4 504.1L32.3 505.2M25.1 512.4L24 513.5" stroke="#f00" stroke-width="1"/></g>
<g shape-rendering="auto" font-size="12" font-weight="bold" fill="#f0f0f0">
<text x="99.8" y="709" textLength="31.4" lengthAdjust="spacingAndGlyphs">03/29</text>
<text x="243.8" y="709" textLength="31.4" lengthAdjust="spacingAndGlyphs">04/10</text>
<text x="387.8" y="709" textLength="31.4" lengthAdjust="spacingAndGlyphs">04/23</text>
<text x="531.8" y="709" textLength="31.4" lengthAdjust="spacingAndGlyphs">05/03</text>
<text x="675.8" y="709" textLength="31.4" lengthAdjust="spacingAndGlyphs">05/15</text>
<text x="819.8" y="709" textLength="31.4" lengthAdjust="spacingAndGlyphs">05/27</text>
<text x="963.8" y="709" textLength="31.4" lengthAdjust="spacingAndGlyphs">06/06</text>
</g>
<text x="30.5" y="711" fill="#ff6c00" font-size="12" font-weight="bold" shape-rendering="auto">240</text>
<text x="51" y="712.8" fill="#ff6c00" font-size="12" font-weight="bold" shape-rendering="auto">分</text>
<path d="M69 711L73.2 703L77.4 711Z" fill="#ff6c00" shape-rendering="auto"/>
<rect x="1027" y="697" width="163" height="16" fill="#000"/>
<g shape-rendering="auto" font-size="12.8" fill="#f5a030">
<text x="1028.3" y="709" textLength="101" lengthAdjust="spacingAndGlyphs">2025/06/11 14:00</text>
<text x="1130.8" y="708" font-size="10" textLength="9" lengthAdjust="spacingAndGlyphs">～</text>
<text x="1141" y="709" textLength="30.8" lengthAdjust="spacingAndGlyphs">18:00</text>
<text x="1176.5" y="709.5" font-size="12">三</text>
</g>
<text x="1167" y="706" fill="#e6ecf4" font-size="29" shape-rendering="auto" letter-spacing="3">FX678</text>
<rect x="20" y="717" width="597" height="15" fill="#222"/>
<rect x="20" y="716" width="39" height="16" fill="#ff6c00"/>
<text x="39.5" y="729" text-anchor="middle" fill="#fff" font-size="12" font-family='"Liberation Mono","Noto Sans CJK SC",monospace' shape-rendering="auto" textLength="24" lengthAdjust="spacingAndGlyphs">指标</text>
<rect x="60" y="717" width="39" height="15" fill="#0c0c0c"/>
<text x="79.0" y="729" text-anchor="middle" fill="#f0f0f0" font-size="12" font-family='"Liberation Mono","Noto Sans CJK SC",monospace' shape-rendering="auto" textLength="24" lengthAdjust="spacingAndGlyphs">模板</text>
<rect x="101" y="717" width="56" height="15" fill="#0c0c0c"/>
<text x="128.5" y="729" text-anchor="middle" fill="#ff6c00" font-size="12" font-family='"Liberation Mono","Noto Sans CJK SC",monospace' shape-rendering="auto" textLength="42" lengthAdjust="spacingAndGlyphs">VIP指标</text>
<rect x="159" y="717" width="26" height="15" fill="#0c0c0c"/>
<text x="171.5" y="729" text-anchor="middle" fill="#c8c8c8" font-size="12" font-family='"Liberation Mono","Noto Sans CJK SC",monospace' shape-rendering="auto" textLength="12" lengthAdjust="spacingAndGlyphs">MA</text>
<rect x="186" y="717" width="39" height="15" fill="#0c0c0c"/>
<text x="205.0" y="729" text-anchor="middle" fill="#c8c8c8" font-size="12" font-family='"Liberation Mono","Noto Sans CJK SC",monospace' shape-rendering="auto" textLength="24" lengthAdjust="spacingAndGlyphs">MACD</text>
<rect x="226" y="717" width="40" height="15" fill="#0c0c0c"/>
<text x="245.5" y="729" text-anchor="middle" fill="#c8c8c8" font-size="12" font-family='"Liberation Mono","Noto Sans CJK SC",monospace' shape-rendering="auto" textLength="24" lengthAdjust="spacingAndGlyphs">BIAS</text>
<rect x="267" y="717" width="33" height="15" fill="#0c0c0c"/>
<text x="283.0" y="729" text-anchor="middle" fill="#c8c8c8" font-size="12" font-family='"Liberation Mono","Noto Sans CJK SC",monospace' shape-rendering="auto" textLength="18" lengthAdjust="spacingAndGlyphs">CCI</text>
<rect x="301" y="717" width="33" height="15" fill="#0c0c0c"/>
<text x="317.0" y="729" text-anchor="middle" fill="#c8c8c8" font-size="12" font-family='"Liberation Mono","Noto Sans CJK SC",monospace' shape-rendering="auto" textLength="18" lengthAdjust="spacingAndGlyphs">KDJ</text>
<rect x="335" y="717" width="38" height="15" fill="#0c0c0c"/>
<text x="353.5" y="729" text-anchor="middle" fill="#c8c8c8" font-size="12" font-family='"Liberation Mono","Noto Sans CJK SC",monospace' shape-rendering="auto" textLength="18" lengthAdjust="spacingAndGlyphs">LW&amp;</text>
<rect x="374" y="717" width="33" height="15" fill="#0c0c0c"/>
<text x="390.0" y="729" text-anchor="middle" fill="#c8c8c8" font-size="12" font-family='"Liberation Mono","Noto Sans CJK SC",monospace' shape-rendering="auto" textLength="18" lengthAdjust="spacingAndGlyphs">RSI</text>
<rect x="408" y="717" width="27" height="15" fill="#0c0c0c"/>
<text x="421.0" y="729" text-anchor="middle" fill="#c8c8c8" font-size="12" font-family='"Liberation Mono","Noto Sans CJK SC",monospace' shape-rendering="auto" textLength="12" lengthAdjust="spacingAndGlyphs">CR</text>
<rect x="436" y="717" width="33" height="15" fill="#0c0c0c"/>
<text x="452.0" y="729" text-anchor="middle" fill="#c8c8c8" font-size="12" font-family='"Liberation Mono","Noto Sans CJK SC",monospace' shape-rendering="auto" textLength="18" lengthAdjust="spacingAndGlyphs">PSY</text>
<rect x="470" y="717" width="40" height="15" fill="#0c0c0c"/>
<text x="489.5" y="729" text-anchor="middle" fill="#c8c8c8" font-size="12" font-family='"Liberation Mono","Noto Sans CJK SC",monospace' shape-rendering="auto" textLength="24" lengthAdjust="spacingAndGlyphs">BOLL</text>
<rect x="511" y="717" width="32" height="15" fill="#0c0c0c"/>
<text x="526.5" y="729" text-anchor="middle" fill="#c8c8c8" font-size="12" font-family='"Liberation Mono","Noto Sans CJK SC",monospace' shape-rendering="auto" textLength="18" lengthAdjust="spacingAndGlyphs">VOL</text>
<rect x="544" y="717" width="33" height="15" fill="#0c0c0c"/>
<text x="560.0" y="729" text-anchor="middle" fill="#c8c8c8" font-size="12" font-family='"Liberation Mono","Noto Sans CJK SC",monospace' shape-rendering="auto" textLength="18" lengthAdjust="spacingAndGlyphs">OBV</text>
<rect x="578" y="717" width="39" height="15" fill="#0c0c0c"/>
<text x="597.0" y="729" text-anchor="middle" fill="#c8c8c8" font-size="12" font-family='"Liberation Mono","Noto Sans CJK SC",monospace' shape-rendering="auto" textLength="24" lengthAdjust="spacingAndGlyphs">设置</text>
</svg>
</body></html>
